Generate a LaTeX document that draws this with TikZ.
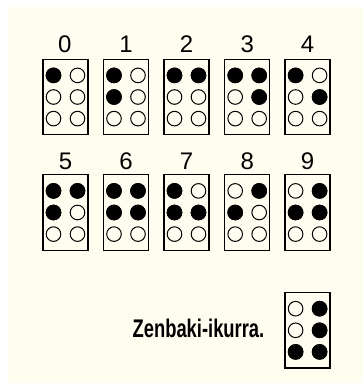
\documentclass[tikz,border=0pt]{standalone}
\usepackage{fontspec}
\setmainfont{Liberation Sans}
\definecolor{cream}{RGB}{255,253,240}
\tikzset{
  cellbox/.style={draw=black, line width=1.3pt, minimum width=45pt, minimum height=75.5pt, inner sep=0pt},
  dotoff/.style={circle, draw=black, line width=1pt, minimum size=14.6pt, inner sep=0pt},
  doton/.style={dotoff, fill=black},
  digit/.style={font=\fontsize{24}{28}\selectfont, anchor=base, inner sep=0pt},
  caption/.style={font=\fontsize{25.5}{30}\selectfont\bfseries, anchor=base east, inner sep=0pt}
}
\newcommand{\brcell}[4]{%
  \node[cellbox] (#1) at (#2,#3) {};
  \foreach \d/\dx/\dy in {1/-12/-21.6, 2/-12/0, 3/-12/21.6, 4/12/-21.6, 5/12/0, 6/12/21.6} {
    \node[dotoff] (#1-\d) at ({#2+\dx},{#3+\dy}) {};
  }
  \foreach \d in {#4} {
    \node[doton] at (#1-\d) {};
  }
}
\begin{document}
\begin{tikzpicture}[x=1pt,y=-1pt]
\useasboundingbox (0,0) rectangle (363,383);
\fill[white] (0,0) rectangle (363,383);
\fill[cream] (8,7) rectangle (363,383);
% row 1
\brcell{b0}{65.5}{97}{1}
\brcell{b1}{126}{97}{1,2}
\brcell{b2}{186.5}{97}{1,4}
\brcell{b3}{247.2}{97}{1,4,5}
\brcell{b4}{307.6}{97}{1,5}
% row 2
\brcell{b5}{65.5}{212.5}{1,2,4}
\brcell{b6}{126}{212.5}{1,2,4,5}
\brcell{b7}{186.5}{212.5}{1,2,5}
\brcell{b8}{247.2}{212.5}{2,4}
\brcell{b9}{307.6}{212.5}{2,4,5}
% number sign
\brcell{bz}{307.6}{330.3}{3,4,5,6}
% labels
\node[digit] (l0) at (64.8,52) {0};
\node[digit] (l1) at (126,52) {1};
\node[digit] (l2) at (186.5,52) {2};
\node[digit] (l3) at (247.2,52) {3};
\node[digit] (l4) at (307.6,52) {4};
\node[digit] (l5) at (65.5,169) {5};
\node[digit] (l6) at (126,169) {6};
\node[digit] (l7) at (186.5,169) {7};
\node[digit] (l8) at (247.2,169) {8};
\node[digit] (l9) at (307.6,169) {9};
\node[caption] (cap) at (264.5,337.3) {\scalebox{0.72}[1]{Zenbaki-ikurra.}};
\end{tikzpicture}
\end{document}
